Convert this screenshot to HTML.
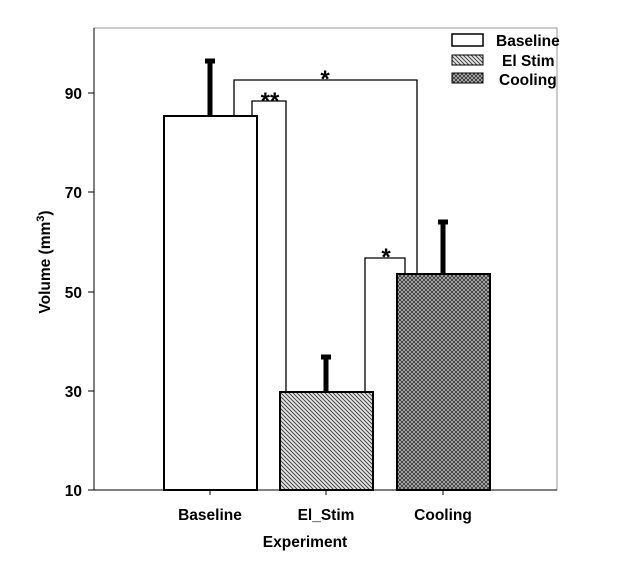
<!DOCTYPE html>
<html><head><style>body{margin:0;background:#fff}svg{display:block}text{font-family:"Liberation Sans",Arial,sans-serif;font-weight:bold;fill:#000}</style></head>
<body>
<svg width="628" height="566" viewBox="0 0 628 566" xmlns="http://www.w3.org/2000/svg">
<defs>
<pattern id="h" width="4" height="4" patternUnits="userSpaceOnUse"><rect width="4" height="4" fill="#e8e8e8"/><path d="M-1,-1 L5,5 M-1,3 L1,5 M3,-1 L5,1" stroke="#444" stroke-width="1"/></pattern>
<pattern id="c" width="4" height="4" patternUnits="userSpaceOnUse"><rect width="4" height="4" fill="#bbb"/><path d="M-1,-1 L5,5 M-1,5 L5,-1" stroke="#333" stroke-width="0.9"/></pattern>
</defs>
<rect x="94" y="28" width="463" height="462" fill="none" stroke="#999" stroke-width="1"/>
<line x1="94" y1="28" x2="94" y2="490" stroke="#000" stroke-width="1"/>
<line x1="94" y1="490" x2="557" y2="490" stroke="#000" stroke-width="1"/>
<g stroke="#000" stroke-width="1">
<line x1="88" y1="490" x2="94" y2="490"/><line x1="88" y1="391" x2="94" y2="391"/><line x1="88" y1="292" x2="94" y2="292"/><line x1="88" y1="192" x2="94" y2="192"/><line x1="88" y1="93" x2="94" y2="93"/>
<line x1="210" y1="490" x2="210" y2="495"/><line x1="326" y1="490" x2="326" y2="495"/><line x1="443" y1="490" x2="443" y2="495"/>
</g>
<g font-size="15.5">
<text x="82" y="496" text-anchor="end">10</text><text x="82" y="397" text-anchor="end">30</text><text x="82" y="298" text-anchor="end">50</text><text x="82" y="198" text-anchor="end">70</text><text x="82" y="99" text-anchor="end">90</text>
<text x="210" y="520" text-anchor="middle">Baseline</text><text x="326" y="520" text-anchor="middle">El_Stim</text><text x="443" y="520" text-anchor="middle">Cooling</text>
<text x="305" y="547" text-anchor="middle">Experiment</text>
<text transform="translate(50,262) rotate(-90)" text-anchor="middle">Volume (mm<tspan font-size="11" dy="-6">3</tspan><tspan dy="6">)</tspan></text>
</g>
<g stroke="#000" stroke-width="5">
<line x1="210" y1="116" x2="210" y2="61"/><line x1="205" y1="61" x2="215" y2="61"/>
<line x1="326" y1="392" x2="326" y2="357"/><line x1="321" y1="357" x2="331" y2="357"/>
<line x1="443" y1="274" x2="443" y2="222"/><line x1="438" y1="222" x2="448" y2="222"/>
</g>
<rect x="164" y="116" width="93" height="374" fill="#fff" stroke="#000" stroke-width="2"/>
<rect x="280" y="392" width="93" height="98" fill="url(#h)" stroke="#000" stroke-width="2"/>
<rect x="397" y="274" width="93" height="216" fill="url(#c)" stroke="#000" stroke-width="2"/>
<g fill="none" stroke="#000" stroke-width="1.3">
<path d="M234,115 V80 H417 V273"/>
<path d="M252,115 V101 H286 V391"/>
<path d="M365,391 V258 H405 V273"/>
</g>
<g font-size="24"><text x="325" y="87" text-anchor="middle">*</text><text x="270" y="109" text-anchor="middle">**</text><text x="386" y="265" text-anchor="middle">*</text></g>
<rect x="452" y="34" width="31" height="12" fill="#fff" stroke="#000" stroke-width="1.5"/>
<rect x="452" y="55" width="31" height="10" fill="url(#h)" stroke="#000" stroke-width="1"/>
<rect x="452" y="73" width="31" height="10" fill="url(#c)" stroke="#000" stroke-width="1"/>
<g font-size="15.5"><text x="496" y="46">Baseline</text><text x="502" y="66">El Stim</text><text x="499" y="85">Cooling</text></g>
</svg>
</body></html>
